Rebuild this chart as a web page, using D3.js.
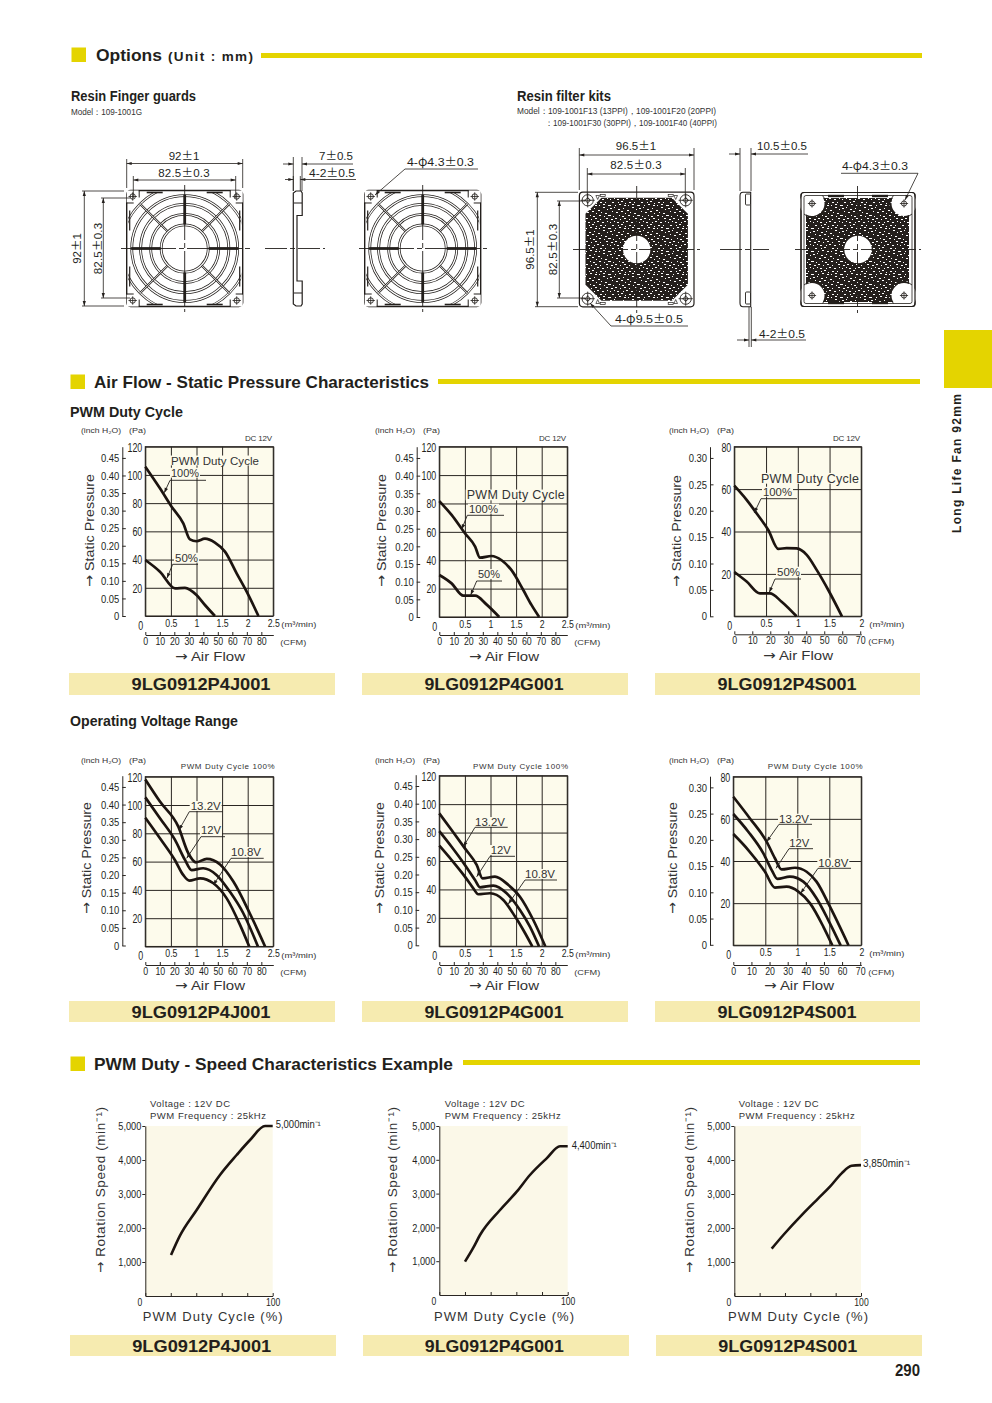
<!DOCTYPE html>
<html><head><meta charset="utf-8"><title>Long Life Fan 92mm</title>
<script src="https://cdn.jsdelivr.net/npm/d3@7/dist/d3.min.js"></script>
<style>html,body{margin:0;padding:0;background:#fff}svg{display:block}</style>
</head><body><div id="page"></div>
<script>
// ---------- chart data ----------
const pressureAirflowM3 = [0, 0.5, 1, 1.5, 2, 2.5];
const pressureAirflowM3Short = [0, 0.5, 1, 1.5, 2];
const cfmTicksLong = [0,10,20,30,40,50,60,70,80];
const cfmTicksShort = [0,10,20,30,40,50,60,70];
const paTicksHigh = [0,20,40,60,80,100,120];
const paTicksLow = [0,20,40,60,80];
const inchTicksHigh = [0,0.05,0.10,0.15,0.20,0.25,0.30,0.35,0.40,0.45];
const inchTicksLow = [0,0.05,0.10,0.15,0.20,0.25,0.30];
const rpmTicks = [1000,2000,3000,4000,5000];
const dutyTicks = [0,20,40,60,80,100];

const j100x=[0,.286,.514,.742,.872,1.0,1.165,1.36,1.556,1.784,1.98,2.21];
const j100y=[105.8,90.5,77.5,65.7,54.3,53,54.8,52,45.6,30.2,17.2,0];
const j50x=[0,.286,.58,.775,1.0,1.165,1.36];
const j50y=[39.7,31.4,19.6,20,14.9,7.8,0];
const g100x=[0,.24,.5,.7,.794,1.02,1.217,1.41,1.64,1.8,1.95];
const g100y=[81.7,71.9,59,49.6,41.8,43,40,33,19,8.5,0];
const g50x=[0,.24,.47,.7,.92,1.17];
const g50y=[29.6,23.7,15,15,8.9,0];
const s100x=[0,.194,.35,.535,.693,.824,.98,1.14,1.297,1.48,1.695];
const s100y=[61.6,54.9,48.6,40.7,31.8,32.2,32,29,21.9,12.4,0];
const s50x=[0,.194,.404,.56,.745,.98];
const s50y=[20.9,16.4,10.8,10.8,6.9,0];

const jv132x=[0,.286,.645,.84,.99,1.2,1.46,1.72,2.04,2.34];
const jv132y=[118,102.4,84.7,65.9,59.5,61.9,58,45.9,23.5,0];
const jv120x=[0,.286,.58,.775,.905,1.13,1.39,1.65,1.914,2.2];
const jv120y=[105.4,90.6,75.3,61.2,54,55.3,50.6,38.8,23.5,0];
const jv108x=[0,.286,.58,.74,.86,1.07,1.33,1.59,1.85,2.03];
const jv108y=[91,76.5,61,50.6,46.6,48.2,44.7,34,15.3,0];
const gv132x=[0,.24,.5,.73,.846,1.087,1.35,1.575,1.836,2.07];
const gv132y=[93.5,81.8,68.9,57.2,47.8,49,43.1,34.9,18.5,0];
const gv120x=[0,.24,.5,.697,.794,1.055,1.315,1.575,1.77,1.947];
const gv120y=[81,70,57.2,46.6,41.5,42.7,37.3,25.5,13.8,0];
const gv108x=[0,.24,.5,.664,.76,.99,1.25,1.48,1.64,1.816];
const gv108y=[70.8,60.7,49,40.8,36.6,37.3,32.6,20.9,11.5,0];
const sv132x=[0,.26,.52,.65,.755,.964,1.146,1.3,1.51,1.8];
const sv132y=[70.5,60.2,49.2,41.3,36,36.8,34.9,30.2,18.3,0];
const sv120x=[0,.234,.47,.6,.69,.885,1.094,1.3,1.484,1.677];
const sv120y=[62.3,53.9,43.6,35.7,31.5,32.6,30.2,22.3,12,0];
const sv108x=[0,.234,.495,.65,.833,1.016,1.2,1.406,1.547];
const sv108y=[52.8,45.2,34.9,27.4,27.8,25.5,19.9,8.9,0];

const jDuty=[20.2,27.2,40.3,58.6,71.7,82.2,94,100];
const jRpm=[1206,1775,2529,3559,4147,4588,5000,5000];
const gDuty=[20,26.5,31.7,47.3,60.3,70.6,83.6,94,100];
const gRpm=[986,1400,1775,2515,3057,3550,4043,4400,4400];
const sDuty=[29.5,38.7,54.5,66.3,75.5,84.7,92.6,100];
const sRpm=[1392,1794,2431,2873,3216,3608,3830,3850];

const modelJ="9LG0912P4J001", modelG="9LG0912P4G001", modelS="9LG0912P4S001";

// ---------- style ----------
const SANS='"Liberation Sans",Arial,sans-serif';
const CJK='"Noto Sans CJK JP",sans-serif';
const DEJA='"DejaVu Sans",sans-serif';
const INK='#231f1c', GREY='#333', YEL='#e4d400', BAND='#f6ebb0', CREAM='#fdfbec', CREAM2='#fbf8e8';

const svg=d3.select('#page').append('svg').attr('width',992).attr('height',1403).attr('viewBox','0 0 992 1403')
  .style('font-family',SANS);

const defs=svg.append('defs');
const speck=defs.append('pattern').attr('id','speck').attr('patternUnits','userSpaceOnUse').attr('width',29).attr('height',23);
speck.append('rect').attr('width',29).attr('height',23).attr('fill','#241f1c');
const speckTile=[[1,1,2],[5,0,1],[9,2,2],[14,1,1],[18,3,2],[23,0,2],[27,2,1],[3,4,1],[7,5,2],[12,4,2],[16,6,1],[21,5,1],[25,6,2],
[0,8,2],[4,9,1],[10,8,1],[13,9,2],[19,8,2],[24,9,1],[28,8,1],[2,12,2],[6,11,2],[11,12,1],[15,11,2],[20,12,1],[26,11,2],
[1,15,1],[5,14,1],[8,15,2],[14,15,1],[17,14,2],[22,15,2],[27,14,1],[3,18,2],[9,18,1],[12,17,2],[16,19,1],[20,18,2],[25,18,1],
[0,21,2],[6,21,1],[10,20,2],[15,21,2],[19,21,1],[23,20,2],[28,21,1]];
speck.selectAll('rect.s').data(speckTile).enter().append('rect').attr('class','s')
  .attr('x',d=>d[0]).attr('y',d=>d[1]).attr('width',d=>d[2]).attr('height',1).attr('fill','#fff');

function txt(g,x,y,s,o={}){
  const t=g.append('text').attr('x',x).attr('y',y)
    .attr('font-size',o.size||10).attr('font-family',o.family||SANS)
    .attr('font-weight',o.weight||'normal').attr('fill',o.fill||INK)
    .attr('text-anchor',o.anchor||'start');
  if(o.len){t.attr('textLength',o.len).attr('lengthAdjust',o.adj||'spacingAndGlyphs');}
  if(o.spacing)t.attr('letter-spacing',o.spacing);
  if(o.rotate)t.attr('transform',`rotate(${o.rotate} ${x} ${y})`);
  s.split(/([±φ→])/).forEach(p=>{ if(!p)return;
    const ts=t.append('tspan').text(p);
    if(p==='±'||p==='φ')ts.attr('font-family',CJK);
    if(p==='→')ts.attr('font-family',DEJA);
  });
  return t;
}
function narrow(sel,k){
  sel.each(function(){
    const L=this.getComputedTextLength();
    if(L>0)d3.select(this).attr('textLength',L*k).attr('lengthAdjust','spacingAndGlyphs');
  });
}
function line(g,x1,y1,x2,y2,w=.8,c=INK){return g.append('line').attr('x1',x1).attr('y1',y1).attr('x2',x2).attr('y2',y2).attr('stroke',c).attr('stroke-width',w);}
function arrow(g,x,y,ang,len=5,hw=1.6){
  g.append('path').attr('d',`M0,0L${-len},${-hw}L${-len},${hw}Z`).attr('fill',INK)
   .attr('transform',`translate(${x},${y}) rotate(${ang})`);
}

// ---------- page furniture ----------
function header(x,y,str,textX,textLen,barX,barX2,barY,barH,size){
  svg.append('rect').attr('x',x).attr('y',y).attr('width',14.5).attr('height',14.5).attr('fill',YEL);
  txt(svg,textX,y+13,str,{size,weight:'bold',len:textLen});
  svg.append('rect').attr('x',barX).attr('y',barY).attr('width',barX2-barX).attr('height',barH).attr('fill',YEL);
}
header(71.5,47.5,'Options',96,66,261,922,53,5,17);
txt(svg,168,61,'(Unit : mm)',{size:13.5,weight:'bold',len:85,adj:'spacing'});
header(70.5,374.5,'Air Flow - Static Pressure Characteristics',94,335,438,920,379,5,16.5);
header(70.5,1056.5,'PWM Duty - Speed Characteristics Example',94,359,463,920,1060,5,16.5);
svg.append('rect').attr('x',944).attr('y',330).attr('width',48).attr('height',58).attr('fill',YEL);
txt(svg,961,533,'Long Life Fan 92mm',{size:12,weight:'bold',rotate:-90,len:139,adj:'spacing'});
txt(svg,920,1376,'290',{size:16,weight:'bold',anchor:'end',len:25});

txt(svg,71,101,'Resin Finger guards',{size:14.5,weight:'bold',len:125});
txt(svg,71,115,'Model：109-1001G',{size:9,len:71,fill:GREY});
txt(svg,517,101,'Resin filter kits',{size:14.5,weight:'bold',len:94});
txt(svg,517,114,'Model：109-1001F13 (13PPI)，109-1001F20 (20PPI)',{size:9,len:199,fill:GREY});
txt(svg,545,126,'：109-1001F30 (30PPI)，109-1001F40 (40PPI)',{size:9,len:172,fill:GREY});
txt(svg,70,417,'PWM Duty Cycle',{size:15,weight:'bold',len:113});
txt(svg,70,726,'Operating Voltage Range',{size:15,weight:'bold',len:168});

// ---------- mechanical drawings ----------
const draw=svg.append('g').attr('class','drawings');
const DIM=11.5;
function dimH(x1,x2,y,ext1,ext2){
  line(draw,x1,y,x2,y); arrow(draw,x1,y,180); arrow(draw,x2,y,0);
  line(draw,x1,ext1,x1,ext2); line(draw,x2,ext1,x2,ext2);
}
function dimV(x,y1,y2,ext1,ext2){
  line(draw,x,y1,x,y2); arrow(draw,x,y1,-90); arrow(draw,x,y2,90);
  line(draw,ext1,y1,ext2,y1); line(draw,ext1,y2,ext2,y2);
}
function dimOut(x1,x2,y,l,r,ext1,ext2){
  line(draw,l,y,x1,y); line(draw,x2,y,r,y); arrow(draw,x1,y,0); arrow(draw,x2,y,180);
  line(draw,x1,ext1,x1,ext2); line(draw,x2,ext1,x2,ext2);
}
function centre(x1,x2,y){line(draw,x1,y,x2,y,.9).attr('stroke-dasharray','22,3,5,3');}
function centreV(x,y1,y2){line(draw,x,y1,x,y2,.9).attr('stroke-dasharray','22,3,5,3');}
function leader(x1,y1,x2,y2){
  line(draw,x1,y1,x2,y2); arrow(draw,x2,y2,Math.atan2(y2-y1,x2-x1)*180/Math.PI,5,1.5);
}
function screw(cx,cy,r){
  draw.append('circle').attr('cx',cx).attr('cy',cy).attr('r',r).attr('fill','#fff').attr('stroke',INK).attr('stroke-width',.9);
  line(draw,cx-r-1.5,cy,cx+r+1.5,cy,.8); line(draw,cx,cy-r-1.5,cx,cy+r+1.5,.8);
}
const guardRingsMm=[18.7,27,35,42];
const guardMmPx=116/92;
let clipN=0;
function guard(cx,cy){
  const h=58, s=guardMmPx, id='gc'+(clipN++);
  defs.append('clipPath').attr('id',id).append('rect').attr('x',cx-h+1.5).attr('y',cy-h+1.5).attr('width',2*h-3).attr('height',2*h-3);
  draw.append('rect').attr('x',cx-h).attr('y',cy-h).attr('width',2*h).attr('height',2*h).attr('rx',4).attr('fill','#fff').attr('stroke',INK).attr('stroke-width',1.4);
  const clip=draw.append('g').attr('clip-path',`url(#${id})`);
  clip.append('circle').attr('cx',cx).attr('cy',cy).attr('r',63).attr('fill','none').attr('stroke',INK).attr('stroke-width',2.6);
  clip.append('circle').attr('cx',cx).attr('cy',cy).attr('r',63).attr('fill','none').attr('stroke','#fff').attr('stroke-width',1.2);
  guardRingsMm.forEach(m=>{
    draw.append('circle').attr('cx',cx).attr('cy',cy).attr('r',m*s).attr('fill','none').attr('stroke',INK).attr('stroke-width',2.8);
    draw.append('circle').attr('cx',cx).attr('cy',cy).attr('r',m*s).attr('fill','none').attr('stroke','#fff').attr('stroke-width',1.3);
  });
  [45,135,225,315].forEach(a=>{
    const c=Math.cos(a*Math.PI/180),sn=Math.sin(a*Math.PI/180);
    const x1=cx+c*19*s,y1=cy+sn*19*s,x2=cx+c*50*s,y2=cy+sn*50*s;
    line(draw,x1,y1,x2,y2,2.2); line(draw,x1,y1,x2,y2,.9,'#fff');
  });
  [[1,0],[-1,0],[0,1],[0,-1]].forEach(d=>{
    line(draw,cx+d[0]*19*s,cy+d[1]*19*s,cx+d[0]*42.5*s,cy+d[1]*42.5*s,2.8);
  });
  [[-1,-1],[1,-1],[-1,1],[1,1]].forEach(d=>{
    const px=cx+d[0]*41.25*s,py=cy+d[1]*41.25*s;
    draw.append('rect').attr('x',px-6).attr('y',py-6).attr('width',12).attr('height',12).attr('fill','#fff');
    screw(px,py,2.7);
    line(draw,px-d[0]*6.5,py-d[1]*1,px-d[0]*6.5,py+d[1]*6,1);
    line(draw,px-d[0]*1,py-d[1]*6.5,px+d[0]*6,py-d[1]*6.5,1);
  });
  [-1,1].forEach(d=>{
    line(draw,cx+d*(h-3),cy-38,cx+d*(h-3),cy-18,1.2); line(draw,cx+d*(h-3),cy+18,cx+d*(h-3),cy+38,1.2);
    line(draw,cx-38,cy+d*(h-2),cx-22,cy+d*(h-2),1.6); line(draw,cx+22,cy+d*(h-2),cx+38,cy+d*(h-2),1.6);
  });
}
guard(184.7,248.5);
centre(121,250,248.5); centreV(184.7,185,312);
txt(draw,184,160,'92±1',{size:DIM,anchor:'middle'});
dimH(126.7,242.7,163.5,159,188);
txt(draw,184,177,'82.5±0.3',{size:DIM,anchor:'middle',spacing:.2});
dimH(133.3,235.7,180,176,198);
txt(draw,81,248.5,'92±1',{size:DIM,anchor:'middle',rotate:-90});
dimV(84.3,191,306,82,124);
txt(draw,101.5,248.5,'82.5±0.3',{size:DIM,anchor:'middle',rotate:-90,spacing:.2});
dimV(103.3,198,298,101,130);
const gs=d3.path(); gs.moveTo(296,191); gs.lineTo(301,191); gs.lineTo(302.2,193);gs.lineTo(302.2,215.5);gs.lineTo(297,215.5);gs.lineTo(297,281);gs.lineTo(302.2,281);gs.lineTo(302.2,304);gs.lineTo(301,306);gs.lineTo(296,306);gs.lineTo(293.3,304);gs.lineTo(293.3,193);gs.closePath();
draw.append('path').attr('d',gs.toString()).attr('fill','#fff').attr('stroke',INK).attr('stroke-width',1.2);
line(draw,294,203,302,203,1);line(draw,294,293,302,293,1);
centre(265,325,248.5);
dimOut(293.3,302,164,283,353,157,191);
txt(draw,319,160,'7±0.5',{size:DIM,len:34});
dimOut(293.3,300.3,179.5,285,356,176,191);
txt(draw,309,177,'4-2±0.5',{size:DIM,len:46});
guard(422.7,248.5);
centre(359,487,248.5); centreV(422.7,185,312);
txt(draw,407,166,'4-φ4.3±0.3',{size:DIM,len:67});
line(draw,405,169,478,169); leader(405,169,375,195);

const filterCornerPx=[[-1,-1],[1,-1],[-1,1],[1,1]];
function filterFront(cx,cy){
  const h=57.3;
  draw.append('rect').attr('x',cx-h).attr('y',cy-h).attr('width',2*h).attr('height',2*h).attr('rx',3.5).attr('fill','#fff').attr('stroke',INK).attr('stroke-width',1.2);
  const a=51.2,c=16,t=-51.8,b=51.2;
  draw.append('path').attr('d',`M${cx-a+c},${cy+t}L${cx+a-c},${cy+t}L${cx+a},${cy+t+c}L${cx+a},${cy+b-c}L${cx+a-c},${cy+b}L${cx-a+c},${cy+b}L${cx-a},${cy+b-c}L${cx-a},${cy+t+c}Z`).attr('fill','url(#speck)');
  draw.append('circle').attr('cx',cx).attr('cy',cy).attr('r',13.7).attr('fill','#fff');
  filterCornerPx.forEach(d=>{
    screw(cx+d[0]*49,cy+d[1]*49.2,5.6);
    screw(cx+d[0]*49,cy+d[1]*49.2,2);
    draw.append('rect').attr('x',cx+d[0]*34-2.5).attr('y',cy+d[1]*54-1).attr('width',5).attr('height',2).attr('fill','#fff').attr('stroke',INK).attr('stroke-width',.7);
    draw.append('path').attr('d',`M${cx+d[0]*39},${cy+d[1]*50}l-1.8,${d[1]*4}l3.6,0Z`).attr('fill','#fff').attr('stroke',INK).attr('stroke-width',.7);
  });
}
filterFront(636.7,249.5);
centre(573,700,249.5); centreV(636.7,186,313);
txt(draw,636,150,'96.5±1',{size:DIM,anchor:'middle'});
dimH(579.3,694,155,148,190);
txt(draw,636,169,'82.5±0.3',{size:DIM,anchor:'middle',spacing:.2});
dimH(587.3,685.3,174,168,198);
txt(draw,534,249.5,'96.5±1',{size:DIM,anchor:'middle',rotate:-90});
dimV(537.3,192.3,306.7,535,578);
txt(draw,556.5,249.5,'82.5±0.3',{size:DIM,anchor:'middle',rotate:-90,spacing:.2});
dimV(559.3,201,298,557,585);
txt(draw,615,323,'4-φ9.5±0.5',{size:DIM,len:68});
line(draw,611,326,688,326); leader(611,326,590,303);
const fs=d3.path(); fs.moveTo(743,192.3); fs.lineTo(750.7,192.3);fs.lineTo(750.7,306.7);fs.lineTo(743,306.7);fs.quadraticCurveTo(740,306.7,740,303);fs.lineTo(740,196);fs.quadraticCurveTo(740,192.3,743,192.3);fs.closePath();
draw.append('path').attr('d',fs.toString()).attr('fill','#fff').attr('stroke',INK).attr('stroke-width',1.1);
[[745.5,194,5,11],[745.5,292,5,12]].forEach(r=>draw.append('rect').attr('x',r[0]).attr('y',r[1]).attr('width',r[2]).attr('height',r[3]).attr('rx',1).attr('fill','#fff').attr('stroke',INK).attr('stroke-width',.9));
centre(720,769,249.5);
dimOut(740,751,154,729,808,148,191);
txt(draw,757,150,'10.5±0.5',{size:DIM,len:50});
dimOut(749,751.3,340,737,806,307,347);
txt(draw,759,338,'4-2±0.5',{size:DIM,len:46});
function filterRear(cx,cy){
  const h=57;
  draw.append('rect').attr('x',cx-h).attr('y',cy-h).attr('width',2*h).attr('height',2*h).attr('rx',3).attr('fill','#fff').attr('stroke',INK).attr('stroke-width',1.2);
  draw.append('rect').attr('x',cx-52).attr('y',cy-51.5).attr('width',103).attr('height',104).attr('rx',9).attr('fill','url(#speck)');
  [-1,1].forEach(d=>{
    line(draw,cx-30,cy+d*(h-3.5),cx-14,cy+d*(h-3.5),2.4); line(draw,cx+14,cy+d*(h-3.5),cx+30,cy+d*(h-3.5),2.4);
  });
  draw.append('circle').attr('cx',cx).attr('cy',cy).attr('r',13.7).attr('fill','#fff');
  filterCornerPx.forEach(d=>{
    const px=cx+d[0]*46,py=cy+d[1]*46;
    draw.append('circle').attr('cx',px).attr('cy',py).attr('r',12.5).attr('fill','#fff');
    draw.append('rect').attr('x',Math.min(px,px+d[0]*10)).attr('y',Math.min(py,py+d[1]*10)).attr('width',10).attr('height',10).attr('fill','#fff');
    draw.append('path').attr('d',`M${px-d[0]*10.5},${py+d[1]*8}A13,13 0 0 ${d[0]*d[1]>0?1:0} ${px+d[0]*8},${py-d[1]*10.5}`).attr('fill','none').attr('stroke',INK).attr('stroke-width',.9);
    screw(px,py,2.6);
  });
  draw.append('rect').attr('x',cx-h).attr('y',cy-h).attr('width',2*h).attr('height',2*h).attr('rx',3).attr('fill','none').attr('stroke',INK).attr('stroke-width',1.2);
  draw.append('rect').attr('x',cx-h+3).attr('y',cy-h+3).attr('width',2*h-6).attr('height',2*h-6).attr('rx',2).attr('fill','none').attr('stroke',INK).attr('stroke-width',.8);
}
filterRear(858,249.5);
centre(795,921,249.5); centreV(857.5,186,313);
txt(draw,842,170,'4-φ4.3±0.3',{size:DIM,len:66});
line(draw,841,173.3,918,173.3); leader(918,173.3,905,200);

// ---------- charts ----------
const lineGen=d3.line().curve(d3.curveMonotoneX);
function labelWithBack(g,x,base,text,w,size,adj){
  g.append('rect').attr('x',x-1).attr('y',base-size*.78).attr('width',w+2).attr('height',size*.86).attr('fill',CREAM);
  txt(g,x,base,text,{size,len:w,adj:adj||'spacing',fill:GREY});
}
function anno(g,o){
  labelWithBack(g,o.x,o.base,o.text,o.w,11.5,'spacingAndGlyphs');
  line(g,o.u0,o.uy,o.u1,o.uy,.9);
  line(g,o.u0,o.uy,o.ax,o.ay,.9);
  arrow(g,o.ax,o.ay,Math.atan2(o.ay-o.uy,o.ax-o.u0)*180/Math.PI,5,1.8);
}
function pqChart(c){
  const g=svg.append('g').attr('class','pq');
  const x=d3.scaleLinear().domain([0,c.xMax]).range([c.l,c.r]);
  const y=d3.scaleLinear().domain([0,c.yMax]).range([c.b,c.t]);
  g.append('rect').attr('x',c.l).attr('y',c.t).attr('width',c.r-c.l).attr('height',c.b-c.t).attr('fill',CREAM);
  const ya=g.append('g').attr('transform',`translate(${c.l},0)`).call(d3.axisLeft(y).tickValues(c.pa).tickSize(-(c.r-c.l)).tickPadding(3).tickFormat(d=>d));
  ya.select('.domain').remove();
  ya.selectAll('line').attr('stroke','#2a2622').attr('stroke-width',1);
  ya.selectAll('text').attr('font-size',12).attr('font-family',SANS).attr('fill',INK)
    .attr('dy',d=>d===0?'1.1em':'.36em').attr('x',d=>d===0?-2:-3).call(narrow,.74);
  const xa=g.append('g').attr('transform',`translate(0,${c.b})`).call(d3.axisBottom(x).tickValues(c.m3).tickSize(-(c.b-c.t)).tickPadding(3).tickFormat(d=>d===0?'':d));
  xa.select('.domain').remove();
  xa.selectAll('line').attr('stroke','#2a2622').attr('stroke-width',1);
  xa.selectAll('text').attr('font-size',11.5).attr('font-family',SANS).attr('fill',INK).attr('y',10.5).attr('dy',0).call(narrow,.76);
  g.append('rect').attr('x',c.l).attr('y',c.t).attr('width',c.r-c.l).attr('height',c.b-c.t).attr('fill','none').attr('stroke','#2a2622').attr('stroke-width',1.1);
  const inch=d3.scaleLinear().domain([0,c.yMax/249]).range([c.b+c.inchShift,c.t+c.inchShift]);
  const ia=g.append('g').attr('transform',`translate(${c.inchX},0)`).call(d3.axisLeft(inch).tickValues(c.inch).tickSizeInner(-3.5).tickSizeOuter(0).tickPadding(3).tickFormat(d=>d===0?'0':d3.format('.2f')(d)));
  ia.select('.domain').attr('stroke','#2a2622').attr('stroke-width',1);
  ia.selectAll('line').attr('stroke','#2a2622').attr('stroke-width',1);
  ia.selectAll('text').attr('font-size',11.5).attr('font-family',SANS).attr('fill',INK).call(narrow,.82);
  const cfm=d3.scaleLinear().domain([0,c.xMax*35.3]).range([c.l,c.r]);
  const ca=g.append('g').attr('transform',`translate(0,${c.cfmY})`).call(d3.axisBottom(cfm).tickValues(c.cfm).tickSizeInner(-3).tickSizeOuter(0).tickPadding(3).tickFormat(d=>d));
  ca.select('.domain').attr('stroke','#2a2622').attr('stroke-width',1);
  ca.selectAll('line').attr('stroke','#2a2622').attr('stroke-width',1);
  ca.selectAll('text').attr('font-size',11).attr('font-family',SANS).attr('fill',INK).attr('y',10).attr('dy',0).call(narrow,.8);
  txt(g,c.unitX,c.unitY,'(inch H₂O)',{size:7.5,len:40,fill:GREY});
  txt(g,c.unitX+48,c.unitY,'(Pa)',{size:7.5,len:17,fill:GREY});
  txt(g,c.r+8,c.b+11,'(m³/min)',{size:7.5,len:35,fill:GREY});
  txt(g,c.r+7,c.cfmY+10,'(CFM)',{size:7.5,len:26,fill:GREY});
  txt(g,c.ylabX,c.ylabBottom,'→ Static Pressure',{size:13.5,rotate:-90,len:c.ylabLen,fill:GREY});
  txt(g,c.airX,c.airBase,'→ Air Flow',{size:13.5,len:70,fill:GREY});
  if(c.corner)txt(g,c.corner.x,c.corner.y,c.corner.t,{size:8,len:c.corner.w,fill:GREY,adj:'spacing'});
  (c.notes||[]).forEach(n=>labelWithBack(g,n.x,n.base,n.text,n.w,n.size));
  g.append('rect').attr('x',c.band[0]).attr('y',c.band[1]).attr('width',c.band[2]-c.band[0]).attr('height',c.band[3]-c.band[1]).attr('fill',BAND);
  txt(g,c.bandX,c.bandBase,c.model,{size:17,weight:'bold',anchor:'middle',len:139});
  c.series.forEach(s=>{
    g.append('path').attr('d',lineGen(s[0].map((v,i)=>[x(v),y(s[1][i])]))).attr('fill','none').attr('stroke','#1c1410').attr('stroke-width',2.7).attr('stroke-linejoin','round');
  });
  (c.annos||[]).forEach(a=>anno(g,a));
}

pqChart({l:145.3,r:273.3,t:446.7,b:616,xMax:2.5,yMax:120,m3:pressureAirflowM3,pa:paTicksHigh,inch:inchTicksHigh,inchX:122.3,inchShift:0,cfm:cfmTicksLong,cfmY:635,
  unitX:81,unitY:433,ylabX:94,ylabBottom:587,ylabLen:113,airX:175,airBase:661,model:modelJ,band:[69,673,335,695],bandX:201,bandBase:690,
  corner:{x:245,y:441,t:'DC 12V',w:27},
  notes:[{x:171,base:464.5,text:'PWM Duty Cycle',w:88,size:11.5}],
  series:[[j100x,j100y],[j50x,j50y]],
  annos:[{text:'100%',x:171,w:28,base:476.7,uy:480.3,u0:170,u1:206,ax:164.3,ay:492.7},{text:'50%',x:175,w:23,base:561.7,uy:564.3,u0:172.7,u1:198,ax:167,ay:578}]});
pqChart({l:439.3,r:567.3,t:446.7,b:617,xMax:2.5,yMax:120,m3:pressureAirflowM3,pa:paTicksHigh,inch:inchTicksHigh,inchX:416.7,inchShift:0,cfm:cfmTicksLong,cfmY:635,
  unitX:375,unitY:433,ylabX:386,ylabBottom:587,ylabLen:113,airX:469,airBase:661,model:modelG,band:[362,673,628,695],bandX:494,bandBase:690,
  corner:{x:539,y:441,t:'DC 12V',w:27},
  notes:[{x:466.7,base:499.3,text:'PWM Duty Cycle',w:98,size:12.5}],
  series:[[g100x,g100y],[g50x,g50y]],
  annos:[{text:'100%',x:469,w:29,base:512.7,uy:515.3,u0:467.3,u1:504,ax:461.7,ay:529.3},{text:'50%',x:478,w:22,base:578,uy:581,u0:476.7,u1:502,ax:470.7,ay:595}]});
pqChart({l:734.3,r:861.3,t:446.7,b:616.3,xMax:2,yMax:80,m3:pressureAirflowM3Short,pa:paTicksLow,inch:inchTicksLow,inchX:710,inchShift:0,cfm:cfmTicksShort,cfmY:634.3,
  unitX:669,unitY:433,ylabX:681,ylabBottom:587,ylabLen:112,airX:763,airBase:660,model:modelS,band:[655,673,920,695],bandX:787,bandBase:690,
  corner:{x:833,y:441,t:'DC 12V',w:27},
  notes:[{x:761,base:482.7,text:'PWM Duty Cycle',w:98,size:12.5}],
  series:[[s100x,s100y],[s50x,s50y]],
  annos:[{text:'100%',x:763,w:29,base:495.7,uy:498.7,u0:761,u1:797,ax:754.3,ay:512.7},{text:'50%',x:777,w:23,base:575.7,uy:579,u0:775,u1:801,ax:769.3,ay:592.3}]});

pqChart({l:145.3,r:273.3,t:776.7,b:946.5,xMax:2.5,yMax:120,m3:pressureAirflowM3,pa:paTicksHigh,inch:inchTicksHigh,inchX:122.3,inchShift:-1,cfm:cfmTicksLong,cfmY:965,
  unitX:81,unitY:763,ylabX:91,ylabBottom:914,ylabLen:112,airX:175,airBase:990,model:modelJ,band:[69,1001,335,1022],bandX:201,bandBase:1017.5,
  corner:{x:180.7,y:768.5,t:'PWM Duty Cycle 100%',w:94},
  series:[[jv132x,jv132y],[jv120x,jv120y],[jv108x,jv108y]],
  annos:[{text:'13.2V',x:190.7,w:30,base:810,uy:811.7,u0:189.3,u1:222.7,ax:179,ay:830},{text:'12V',x:201,w:20,base:834.3,uy:836.7,u0:201,u1:225,ax:186.7,ay:858.3},{text:'10.8V',x:231,w:30,base:856,uy:858.3,u0:231,u1:263.7,ax:213.3,ay:885}]});
pqChart({l:439.3,r:567.3,t:775.7,b:946.3,xMax:2.5,yMax:120,m3:pressureAirflowM3,pa:paTicksHigh,inch:inchTicksHigh,inchX:415.7,inchShift:-1,cfm:cfmTicksLong,cfmY:965,
  unitX:375,unitY:763,ylabX:383.5,ylabBottom:914,ylabLen:112,airX:469,airBase:990,model:modelG,band:[362,1001,628,1022],bandX:494,bandBase:1017.5,
  corner:{x:473,y:768.5,t:'PWM Duty Cycle 100%',w:95},
  series:[[gv132x,gv132y],[gv120x,gv120y],[gv108x,gv108y]],
  annos:[{text:'13.2V',x:475,w:30,base:826,uy:827.3,u0:475,u1:507.7,ax:463.3,ay:846.7},{text:'12V',x:490.7,w:20,base:854,uy:856.3,u0:490,u1:515,ax:476.7,ay:876.7},{text:'10.8V',x:525,w:30,base:878,uy:880,u0:525,u1:557,ax:508.3,ay:904}]});
pqChart({l:733.3,r:861.3,t:776.7,b:945.3,xMax:2,yMax:80,m3:pressureAirflowM3Short,pa:paTicksLow,inch:inchTicksLow,inchX:710,inchShift:-.5,cfm:cfmTicksShort,cfmY:965,
  unitX:669,unitY:763,ylabX:677,ylabBottom:914,ylabLen:112,airX:764,airBase:990,model:modelS,band:[655,1001,920,1022],bandX:787,bandBase:1017.5,
  corner:{x:767.7,y:768.5,t:'PWM Duty Cycle 100%',w:95},
  series:[[sv132x,sv132y],[sv120x,sv120y],[sv108x,sv108y]],
  annos:[{text:'13.2V',x:779,w:30,base:822.7,uy:824.3,u0:779,u1:812,ax:766.7,ay:841.7},{text:'12V',x:789.3,w:20,base:847.3,uy:848.7,u0:789,u1:813,ax:776,ay:868.3},{text:'10.8V',x:818.3,w:30,base:866.7,uy:868.3,u0:818,u1:851,ax:800.7,ay:893.3}]});

function speedChart(c){
  const g=svg.append('g').attr('class','speed');
  const x=d3.scaleLinear().domain([0,100]).range([c.l,c.r]);
  const y=d3.scaleLinear().domain([0,5000]).range([c.b,c.t]);
  g.append('rect').attr('x',c.l).attr('y',c.t).attr('width',c.r-c.l).attr('height',c.b-c.t).attr('fill',CREAM2);
  const ya=g.append('g').attr('transform',`translate(${c.l},0)`).call(d3.axisLeft(y).tickValues(rpmTicks).tickSizeInner(3).tickSizeOuter(0).tickPadding(1).tickFormat(d3.format(',')));
  ya.select('.domain').attr('stroke','#2a2622').attr('stroke-width',1);
  ya.selectAll('line').attr('stroke','#2a2622').attr('stroke-width',1);
  ya.selectAll('text').attr('font-size',11.5).attr('font-family',SANS).attr('fill',INK).call(narrow,.8);
  const xa=g.append('g').attr('transform',`translate(0,${c.b})`).call(d3.axisBottom(x).tickValues(dutyTicks).tickSizeInner(-3).tickSizeOuter(0).tickPadding(3).tickFormat(d=>(d===0||d===100)?d:''));
  xa.select('.domain').attr('stroke','#2a2622').attr('stroke-width',1);
  xa.selectAll('line').attr('stroke','#2a2622').attr('stroke-width',1);
  xa.selectAll('text').attr('font-size',11).attr('font-family',SANS).attr('fill',INK).attr('y',10).attr('dy',0)
    .attr('dx',d=>d===0?-6:0).call(narrow,.78);
  g.append('path').attr('d',lineGen(c.duty.map((v,i)=>[x(v),y(c.rpm[i])]))).attr('fill','none').attr('stroke','#1c1410').attr('stroke-width',2.6);
  txt(g,c.noteX,1106.7,'Voltage : 12V DC',{size:9.5,len:80,fill:GREY,adj:'spacing'});
  txt(g,c.noteX,1118.5,'PWM Frequency : 25kHz',{size:9.5,len:116,fill:GREY,adj:'spacing'});
  txt(g,c.ylabX,1273,'→ Rotation Speed (min⁻¹)',{size:13.5,rotate:-90,len:166,fill:GREY,adj:'spacing'});
  txt(g,c.dutyX,1321,'PWM Duty Cycle  (%)',{size:13,len:140,fill:GREY,adj:'spacing'});
  txt(g,c.endX,c.endBase,c.end,{size:10,len:c.endW,fill:INK});
  g.append('rect').attr('x',c.band[0]).attr('y',1335).attr('width',c.band[1]-c.band[0]).attr('height',21).attr('fill',BAND);
  txt(g,c.bandX,1352.3,c.model,{size:17,weight:'bold',anchor:'middle',len:139});
}
speedChart({l:145.3,r:272.7,t:1126,b:1296,duty:jDuty,rpm:jRpm,noteX:150,ylabX:105,dutyX:142.7,endX:275.7,endBase:1128,end:'5,000min⁻¹',endW:45,band:[70,336],bandX:201.7,model:modelJ});
speedChart({l:439.3,r:567.7,t:1126,b:1295,duty:gDuty,rpm:gRpm,noteX:444.7,ylabX:397,dutyX:434,endX:571.7,endBase:1148.7,end:'4,400min⁻¹',endW:45,band:[363,629],bandX:494.3,model:modelG});
speedChart({l:734.3,r:861,t:1126,b:1296,duty:sDuty,rpm:sRpm,noteX:738.7,ylabX:693.5,dutyX:728,endX:863,endBase:1167,end:'3,850min⁻¹',endW:47,band:[656,922],bandX:787.7,model:modelS});
</script></body></html>
